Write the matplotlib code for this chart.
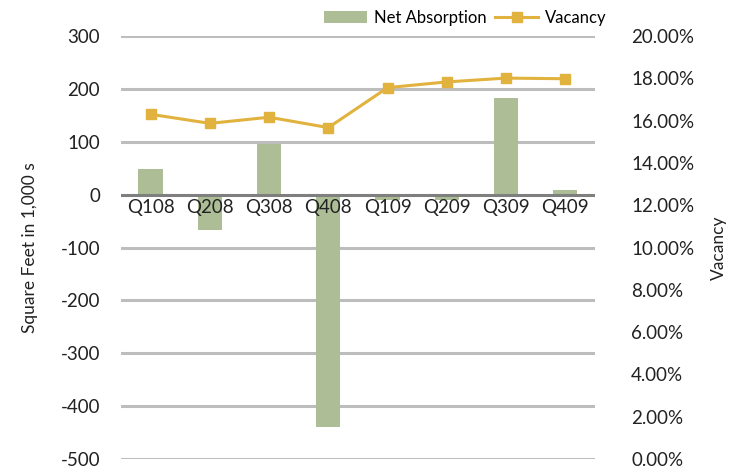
import matplotlib.pyplot as plt
from matplotlib.ticker import FuncFormatter

plt.rcParams['font.family'] = ['Lato', 'DejaVu Sans']
plt.rcParams['axes.unicode_minus'] = False

quarters = ['Q108', 'Q208', 'Q308', 'Q408', 'Q109', 'Q209', 'Q309', 'Q409']
net_absorption = [49, -67, 96, -439, -10, -10, 183, 8]
vacancy = [16.30, 15.87, 16.16, 15.67, 17.56, 17.83, 18.01, 17.98]
left_ticks = [-500, -400, -300, -200, -100, 0, 100, 200, 300]
right_ticks = [0, 2, 4, 6, 8, 10, 12, 14, 16, 18, 20]

bar_color = '#ADBD95'
line_color = '#E2B23F'
text_color = '#222222'

fig = plt.figure(figsize=(7.4, 4.69), dpi=100)
ax = fig.add_axes([0.1635, 0.0213, 0.6405, 0.9019])
x = list(range(len(quarters)))

ax.bar(x, net_absorption, width=0.41, color=bar_color, zorder=2, label='Net Absorption')
ax.set_xlim(-0.5, 7.5)
ax.set_ylim(-500, 300)
ax.set_yticks(left_ticks)
for t in left_ticks:
    if t != 0:
        ax.axhline(t, color='#BDBDBD', lw=2.2, zorder=1)
ax.axhline(0, color='#7F7F7F', lw=2.2, zorder=3)

for s in ax.spines.values():
    s.set_visible(False)
ax.tick_params(axis='both', length=0, labelsize=13.5, colors=text_color)
ax.tick_params(axis='y', pad=15)
ax.set_xticks([])
for xi, q in zip(x, quarters):
    ax.text(xi, -8, q, ha='center', va='top', fontsize=13.5, color=text_color, zorder=4)
ax.set_ylabel('Square Feet in 1,000 s', fontsize=12.5, color=text_color, labelpad=16)

ax2 = ax.twinx()
ax2.plot(x, vacancy, color=line_color, lw=2.2, marker='s', markersize=7.5, label='Vacancy', zorder=5)
ax2.set_ylim(0, 20)
ax2.set_yticks(right_ticks)
ax2.yaxis.set_major_formatter(FuncFormatter(lambda v, p: f'{v:.2f}%'))
for s in ax2.spines.values():
    s.set_visible(False)
ax2.tick_params(axis='y', length=0, labelsize=13.5, colors=text_color, pad=26)
ax2.set_ylabel('Vacancy', fontsize=12.5, color=text_color, labelpad=12)

h1, l1 = ax.get_legend_handles_labels()
h2, l2 = ax2.get_legend_handles_labels()
fig.legend(h1 + h2, l1 + l2, loc='center right', bbox_to_anchor=(0.84, 0.962), ncol=2,
           frameon=False, fontsize=12, handlelength=2.6, columnspacing=0.5, handletextpad=0.4)

fig.savefig('out.png', dpi=100)
